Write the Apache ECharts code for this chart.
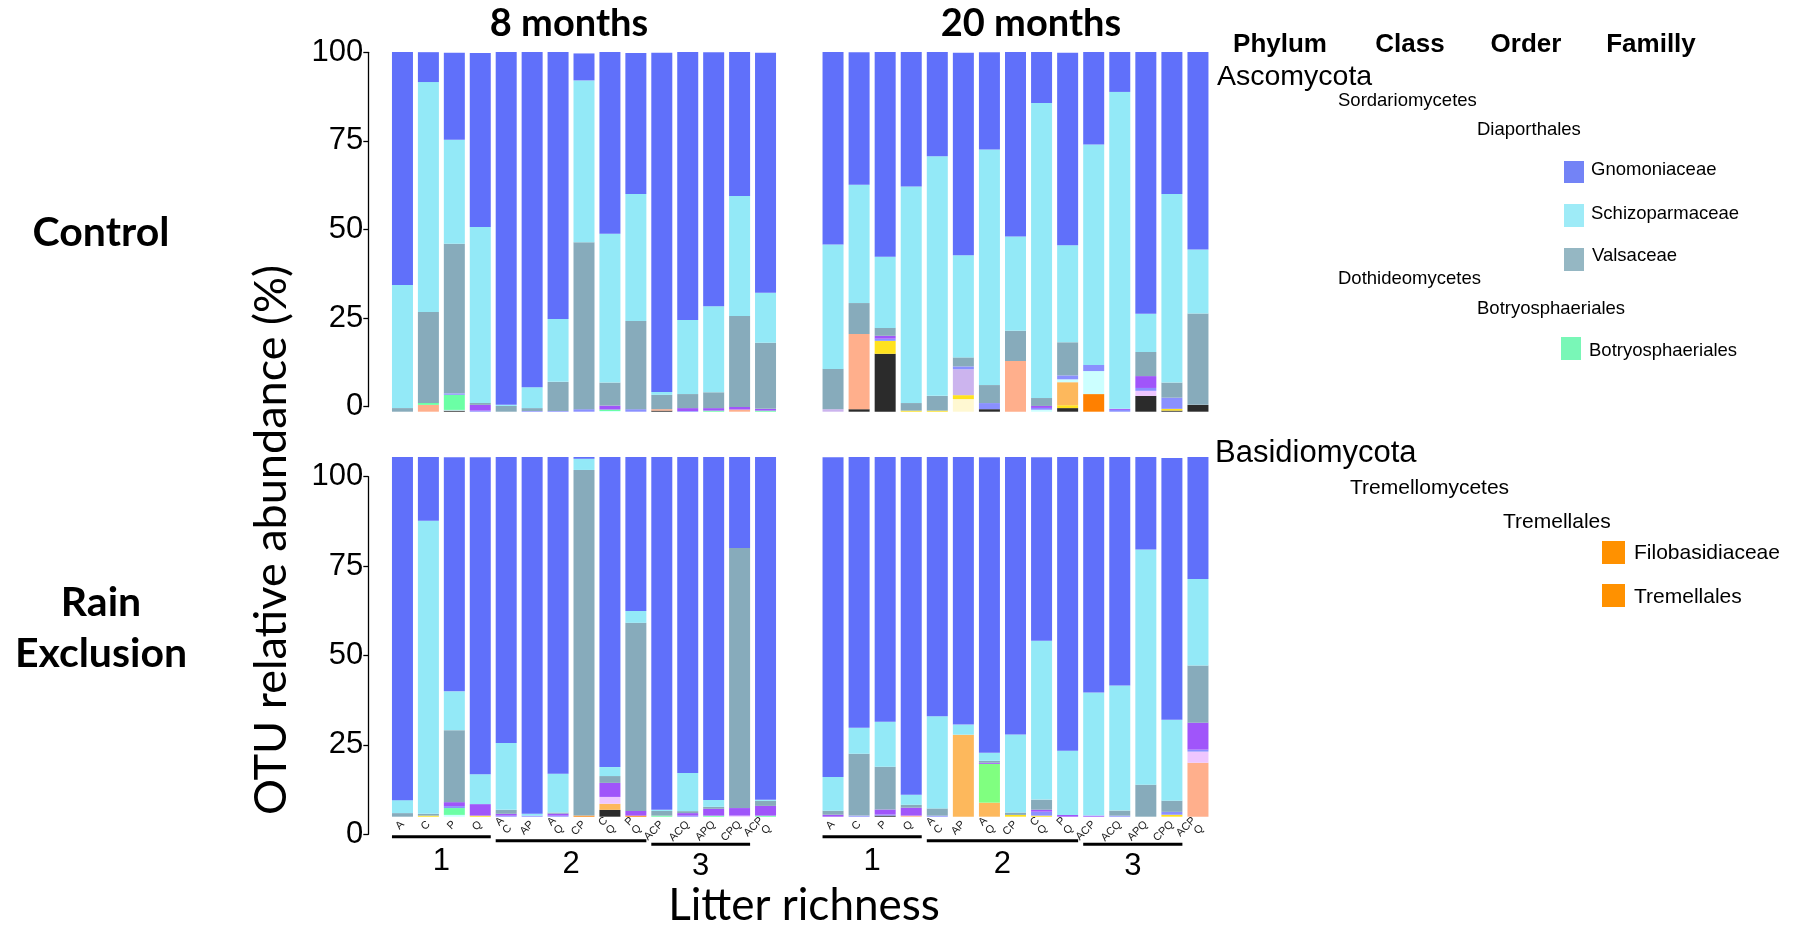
<!DOCTYPE html>
<html><head><meta charset="utf-8">
<script src="https://cdn.jsdelivr.net/npm/echarts@6/dist/echarts.min.js"></script>
<style>html,body{margin:0;padding:0;background:#fff}#c{width:1801px;height:927px}</style>
</head><body><div id="c"></div><script>
// ---------- categories & tick labels ----------
const categories = ['A','C','P','Q','AC','AP','AQ','CP','CQ','PQ','ACP','ACQ','APQ','CPQ','ACPQ'];
const tickLabels = ['A','C','P','Q','A\nC','AP','A\nQ','CP','C\nQ','P\nQ','ACP','ACQ','APQ','CPQ','ACP\nQ'];
const richnessLabels = ['1','2','3'];
const richnessFirst = ['A','AC','ACP'];
const richnessLast  = ['Q','PQ','CPQ'];
const yTickValues = [0,25,50,75,100];
const panelTitles = ['8 months','20 months'];
const rowLabels = ['Control','Rain\nExclusion'];

// ---------- Control, 8 months ----------
const c8_black      = [0,0,0.3,0,0,0,0,0,0,0,0.3,0,0,0,0];
const c8_peach      = [0,1.9,0,0,0,0,0,0,0,0,0.4,0,0,0.6,0];
const c8_lightcyan  = [0,0,0.2,0,0,0,0,0,0.2,0,0,0,0,0,0];
const c8_mint       = [0,0.55,4.2,0,0,0,0,0,0.4,0,0,0,0.3,0,0.3];
const c8_periwinkle = [0,0,0.4,0.3,0,0.2,0.2,0.7,0,0.7,0,0.2,0,0,0];
const c8_purple     = [0,0,0,1.6,0,0,0,0,1.1,0,0,0.8,0.7,0.7,0.5];
const c8_valsaceae  = [1.0,25.3,41.6,0.55,1.6,0.8,8.1,46.4,6.4,24.5,4.0,3.9,4.4,25.3,18.4];
const c8_schizo     = [34.2,63.9,28.9,48.9,0.3,5.8,17.5,45.0,41.4,35.3,0.8,20.6,23.9,33.4,13.9];
const c8_gnomo      = [64.8,8.3,24.2,48.4,98.1,93.2,74.2,7.5,50.6,39.2,94.3,74.5,70.6,40.0,66.7];

// ---------- Control, 20 months ----------
const c20_cream       = [0,0,0,0,0,3.5,0,0,0,0,0,0,0,0,0];
const c20_black       = [0,0.7,16.1,0,0,0,0.7,0,0,1.0,0,0,4.4,0.3,1.9];
const c20_yellow      = [0,0,3.6,0.3,0.3,1.1,0,0,0,0.8,0,0,0,0.5,0];
const c20_orange      = [0,0,0,0,0,0,0,0,0,0,4.9,0,0,0,0];
const c20_lightorange = [0,0,0,0,0,0,0,0,0,6.4,0,0,0,0,0];
const c20_peach       = [0,20.9,0,0,0,0,0,14.1,0,0,0,0,0,0,0];
const c20_lightcyan   = [0,0,0,0,0,0,0,0,0.55,0.8,6.4,0,0,0,0];
const c20_pinklav     = [0,0,0,0,0,0,0,0,0,0,0,0,1.4,0,0];
const c20_lavender    = [0.7,0,0,0,0,7.2,0,0,0,0,0,0,0,0,0];
const c20_periwinkle  = [0,0,0.6,0,0,0.8,1.7,0,0.5,1.1,1.7,0.5,0.8,3.1,0];
const c20_purple      = [0,0,0.8,0,0,0,0,0,0.55,0,0,0.3,3.3,0,0];
const c20_valsaceae   = [11.2,8.6,2.2,2.1,4.1,2.5,5.0,8.4,2.2,9.2,0,0,6.7,4.2,25.4];
const c20_schizo      = [34.6,32.9,19.8,60.2,66.6,28.4,65.5,26.2,82.0,27.0,61.3,88.1,10.6,52.4,17.8];
const c20_gnomo       = [53.5,36.8,56.9,37.4,29.0,56.3,27.0,51.3,14.2,53.5,25.7,11.2,72.8,39.6,54.9];

// ---------- Rain exclusion, 8 months ----------
const r8_black       = [0,0,0,0,0,0,0,0,1.9,0,0,0,0,0,0];
const r8_yellow      = [0,0.3,0,0.3,0,0,0,0,0,0,0,0,0,0,0];
const r8_orange      = [0,0,0,0,0,0,0,0.3,0,0.3,0,0,0,0,0];
const r8_lightorange = [0,0,0,0,0,0,0,0,1.7,0,0,0,0,0,0];
const r8_lightcyan   = [0,0,0.5,0,0,0,0,0,0,0,0,0,0,0,0];
const r8_mint        = [0,0,1.9,0,0,0,0,0,0,0,0.3,0,0.3,0,0.3];
const r8_pinklav     = [0,0,0,0,0,0,0,0,1.9,0,0,0,0,0.3,0];
const r8_periwinkle  = [0,0,0.55,0,0.3,0.3,0.3,0,0,0,0,0.3,0,0,0];
const r8_purple      = [0,0,1.1,3.2,0.5,0,0.55,0,3.9,1.3,0,0.7,1.9,2.1,2.7];
const r8_valsaceae   = [1.0,0.5,20.0,0,1.1,0,0.3,96.1,1.9,52.3,1.3,0.55,0.55,72.3,1.4];
const r8_schizo      = [3.6,81.5,10.8,8.3,18.6,0.5,10.8,3.1,2.5,3.3,0.3,10.6,1.9,0,0.3];
const r8_gnomo       = [95.4,17.8,65.1,88.1,79.5,99.2,88.1,0.55,86.2,42.8,98.1,87.9,95.4,25.3,95.4];

// ---------- Rain exclusion, 20 months ----------
const r20_black       = [0,0,0.3,0,0,0,0,0,0,0,0,0,0,0,0];
const r20_yellow      = [0,0,0,0,0,0,0,0.5,0.3,0,0,0,0,0.55,0];
const r20_lightorange = [0,0,0,0,0,22.8,3.9,0,0,0,0,0,0,0,0];
const r20_peach       = [0,0,0,0.3,0,0,0,0,0,0,0,0,0,0,15.0];
const r20_green       = [0,0,0,0,0,0,10.8,0,0,0,0,0,0,0,0];
const r20_pinklav     = [0,0,0,0,0,0,0,0,0,0,0,0,0,0,3.1];
const r20_periwinkle  = [0,0.3,0.3,0,0.3,0,0,0,1.1,0,0,0.3,0,0.8,0.55];
const r20_purple      = [0.55,0,1.4,2.2,0,0,0.3,0,0.55,0.5,0.3,0,0,0,7.5];
const r20_valsaceae   = [1.1,17.2,11.9,0.8,2.0,0,0.55,0.65,2.8,0,0,1.4,8.9,3.1,15.9];
const r20_schizo      = [9.4,7.2,12.5,2.8,25.6,2.8,2.2,21.7,44.2,17.8,34.2,34.8,65.4,22.5,24.0];
const r20_gnomo       = [88.9,75.3,73.6,93.9,72.2,74.4,82.2,77.5,51.0,81.7,65.8,63.8,25.7,72.8,34.3];

// ---------- stacking order (bottom -> top) and colours ----------
const taxonOrder = ['cream','black','yellow','orange','lightorange','peach','lightcyan','green','mint',
  'pinklav','lavender','periwinkle','purple','Valsaceae','Schizoparmaceae','Gnomoniaceae'];
const taxonColors = {
  cream:'#FFF8D2', black:'#2B2B2B', yellow:'#FFE21F', orange:'#FF8000', lightorange:'#FDB85C',
  peach:'#FFAF8C', lightcyan:'#CCFFFF', green:'#80FF80', mint:'#6BFFA5', pinklav:'#EEC6FF',
  lavender:'#CCB4EE', periwinkle:'#8A90FF', purple:'#A055FA', Valsaceae:'#87ABBB',
  Schizoparmaceae:'#93E9F7', Gnomoniaceae:'#6070FA'
};

const panels = [
  {black:c8_black, peach:c8_peach, lightcyan:c8_lightcyan, mint:c8_mint, periwinkle:c8_periwinkle,
   purple:c8_purple, Valsaceae:c8_valsaceae, Schizoparmaceae:c8_schizo, Gnomoniaceae:c8_gnomo},
  {cream:c20_cream, black:c20_black, yellow:c20_yellow, orange:c20_orange, lightorange:c20_lightorange,
   peach:c20_peach, lightcyan:c20_lightcyan, pinklav:c20_pinklav, lavender:c20_lavender,
   periwinkle:c20_periwinkle, purple:c20_purple, Valsaceae:c20_valsaceae, Schizoparmaceae:c20_schizo, Gnomoniaceae:c20_gnomo},
  {black:r8_black, yellow:r8_yellow, orange:r8_orange, lightorange:r8_lightorange, lightcyan:r8_lightcyan,
   mint:r8_mint, pinklav:r8_pinklav, periwinkle:r8_periwinkle, purple:r8_purple,
   Valsaceae:r8_valsaceae, Schizoparmaceae:r8_schizo, Gnomoniaceae:r8_gnomo},
  {black:r20_black, yellow:r20_yellow, lightorange:r20_lightorange, peach:r20_peach, green:r20_green,
   pinklav:r20_pinklav, periwinkle:r20_periwinkle, purple:r20_purple,
   Valsaceae:r20_valsaceae, Schizoparmaceae:r20_schizo, Gnomoniaceae:r20_gnomo}
];

// ---------- layout ----------
const barGrids = [
  {left:389.5, top:52, width:389, height:359.7},
  {left:820,   top:52, width:391, height:359.7},
  {left:389.5, top:457, width:389, height:359.7},
  {left:820,   top:457, width:391, height:359.7}
];
const axisGrids = [
  {left:368.3, top:52.3, width:10, height:354.4},
  {left:368.3, top:476.7, width:10, height:357.6}
];

const chart = echarts.init(document.getElementById('c'), null, {renderer:'canvas'});

const grids = barGrids.concat(axisGrids).map(g => Object.assign({containLabel:false}, g));
const xAxes = [];
const yAxes = [];
for (let i = 0; i < 4; i++) {
  xAxes.push({
    type:'category', gridIndex:i, data:categories,
    axisLine:{show:false}, axisTick:{show:false}, splitLine:{show:false},
    axisLabel:{
      show: i >= 2, rotate:45, interval:0, margin:6,
      fontFamily:'Liberation Sans', fontSize:11, color:'#222', lineHeight:11,
      formatter:(v, idx) => tickLabels[idx]
    }
  });
  yAxes.push({type:'value', gridIndex:i, min:0, max:100, show:false});
}
for (let j = 0; j < 2; j++) {
  xAxes.push({type:'value', gridIndex:4 + j, show:false, min:0, max:1});
  yAxes.push({
    type:'value', gridIndex:4 + j, min:0, max:100, interval:25,
    axisLine:{show:true, lineStyle:{color:'#000', width:1.3}},
    axisTick:{show:true, length:5, lineStyle:{color:'#000', width:1.3}},
    splitLine:{show:false},
    axisLabel:{show:true, margin:5, fontFamily:'Liberation Sans', fontSize:31, color:'#000',
      formatter:v => yTickValues.includes(v) ? String(v) : ''}
  });
}

const series = [];
panels.forEach((p, pi) => {
  taxonOrder.forEach(t => {
    if (!p[t]) return;
    series.push({
      type:'bar', name:t, stack:'s' + pi, xAxisIndex:pi, yAxisIndex:pi,
      barWidth:21, data:p[t], silent:true,
      itemStyle:{color:taxonColors[t]}
    });
  });
});

chart.setOption({
  animation:false,
  backgroundColor:'#fff',
  grid:grids, xAxis:xAxes, yAxis:yAxes, series:series
});

// ---------- annotations ----------
const g = [];
const txt = (x, y, text, font, align, extra) => Object.assign({
  type:'text', x:x, y:y, silent:true,
  style:{text:text, font:font, fill:'#000', textAlign:align || 'center', textVerticalAlign:'middle'}
}, extra || {});

const LS = '"Liberation Sans", Arial, sans-serif';
// panel titles
g.push(txt(569, 24, panelTitles[0], 'bold 38px Lato'));
g.push(txt(1031, 24, panelTitles[1], 'bold 38px Lato'));
// row labels
g.push(txt(101, 233, rowLabels[0], 'bold 41px Lato'));
g.push(txt(101, 628, rowLabels[1], 'bold 41px Lato'));
g[g.length - 1].style.lineHeight = 51;
// y title
g.push(txt(271, 540, 'OTU relative abundance (%)', '45px Lato', 'center', {rotation:Math.PI / 2}));
// x title
g.push(txt(804, 906, 'Litter richness', '44px Lato'));

// richness brackets, computed from axes
const lineOffsets = [20, 24, 27.5];
const numOffsets = [45, 48, 50];
[2, 3].forEach(ai => {
  const yBase = chart.convertToPixel({yAxisIndex:ai}, 0);
  for (let k = 0; k < richnessLabels.length; k++) {
    const x1 = chart.convertToPixel({xAxisIndex:ai}, richnessFirst[k]) - 10.5;
    const x2 = chart.convertToPixel({xAxisIndex:ai}, richnessLast[k]) + 10.5;
    const y = yBase + lineOffsets[k];
    g.push({type:'line', silent:true, shape:{x1:x1, y1:y, x2:x2, y2:y},
      style:{stroke:'#000', lineWidth:3}});
    g.push(txt((x1 + x2) / 2, yBase + numOffsets[k], richnessLabels[k], '31px ' + LS));
  }
});

// taxonomy legend (right)
const hdr = 'bold 26px ' + LS;
g.push(txt(1280, 45, 'Phylum', hdr));
g.push(txt(1410, 45, 'Class', hdr));
g.push(txt(1526, 45, 'Order', hdr));
g.push(txt(1651, 45, 'Familly', hdr));
const sm = '18.5px ' + LS;
const sm2 = '21px ' + LS;
g.push(txt(1217, 77, 'Ascomycota', '28.5px ' + LS, 'left'));
g.push(txt(1338, 101, 'Sordariomycetes', sm, 'left'));
g.push(txt(1477, 130, 'Diaporthales', sm, 'left'));
const legendRect = (x, y, w, h, c) => ({type:'rect', silent:true, shape:{x:x, y:y, width:w, height:h}, style:{fill:c}});
g.push(legendRect(1564, 161, 20, 22, '#7383F6'));
g.push(txt(1591, 170, 'Gnomoniaceae', sm, 'left'));
g.push(legendRect(1564, 204, 20, 23, '#9EEBF7'));
g.push(txt(1591, 214, 'Schizoparmaceae', sm, 'left'));
g.push(legendRect(1564, 248, 20, 23, '#95B7C3'));
g.push(txt(1592, 256, 'Valsaceae', sm, 'left'));
g.push(txt(1338, 279, 'Dothideomycetes', sm, 'left'));
g.push(txt(1477, 309, 'Botryosphaeriales', sm, 'left'));
g.push(legendRect(1561, 337, 20, 23, '#79F7B7'));
g.push(txt(1589, 351, 'Botryosphaeriales', sm, 'left'));
g.push(txt(1215, 453, 'Basidiomycota', '31px ' + LS, 'left'));
g.push(txt(1350, 488, 'Tremellomycetes', sm2, 'left'));
g.push(txt(1503, 522, 'Tremellales', sm2, 'left'));
g.push(legendRect(1602, 541, 23, 23, '#FF9100'));
g.push(txt(1634, 553, 'Filobasidiaceae', sm2, 'left'));
g.push(legendRect(1602, 584, 23, 23, '#FF9100'));
g.push(txt(1634, 597, 'Tremellales', sm2, 'left'));

chart.setOption({graphic:{elements:g}});
</script></body></html>
